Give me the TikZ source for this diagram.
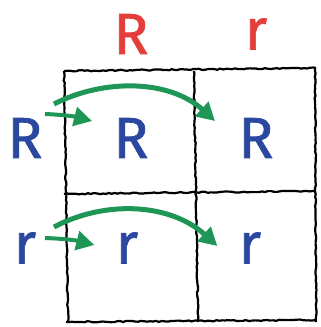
\documentclass[tikz,border=0pt]{standalone}
\usepackage{fontspec}
\setsansfont{Fira Sans}[BoldFont=*,BoldFeatures={FakeBold=1.2}]
\usetikzlibrary{calc,arrows.meta,decorations.pathmorphing}

\definecolor{allelered}{RGB}{228,62,60}
\definecolor{alleleblue}{RGB}{42,72,160}
\definecolor{arrowgreen}{RGB}{30,150,85}

\tikzset{
  grid/.style={draw=black,line width=2.2bp,
    decorate,decoration={random steps,segment length=3bp,amplitude=0.6bp}},
  parent/.style={text=allelered,font=\sffamily\bfseries\fontsize{58}{58}\selectfont},
  allele/.style={text=alleleblue,font=\sffamily\bfseries\fontsize{58}{58}\selectfont},
  flow/.style={draw=arrowgreen,line width=5bp,
    -{Triangle[length=18bp,width=19bp]}},
  shortflow/.style={flow,line width=4bp}
}

\begin{document}
\begin{tikzpicture}[x=1bp,y=-1bp]
  \useasboundingbox (0,0) rectangle (321,327);
  % square
  \draw[grid] (64,71) -- (316,68);
  \draw[grid] (64,194) -- (316,191);
  \draw[grid] (66,322) -- (316,320);
  \draw[grid] (64,71) -- (68,322);
  \draw[grid] (194,71) -- (198,322);
  \draw[grid] (315,68) -- (316,322);
  % labels
  \node[parent] (topR) at (131,34) {R};
  \node[parent] (topr) at (256,34) {r};
  \node[allele] (sideR) at (25,138) {R};
  \node[allele] (sider) at (25,248) {r};
  \node[allele] (RR) at (131,138) {R};
  \node[allele] (Rr) at (256,138) {R};
  \node[allele] (rR) at (127,248) {r};
  \node[allele] (rr) at (250,248) {r};
  % arrows
  \coordinate (a1) at (45,114);
  \coordinate (a2) at (54,104);
  \coordinate (b1) at (45,238);
  \coordinate (b2) at (54,227);
  \draw[shortflow] (a1) to[bend left=6] ($(RR.west)+(-18,-17)$);
  \draw[flow] (a2) .. controls (105,78) and (170,80) .. ($(Rr.west)+(-20,-17)$);
  \draw[shortflow] (b1) to[bend left=6] ($(rR.west)+(-18,-3)$);
  \draw[flow] (b2) .. controls (105,200) and (170,203) .. ($(rr.west)+(-18,-2)$);
\end{tikzpicture}
\end{document}
